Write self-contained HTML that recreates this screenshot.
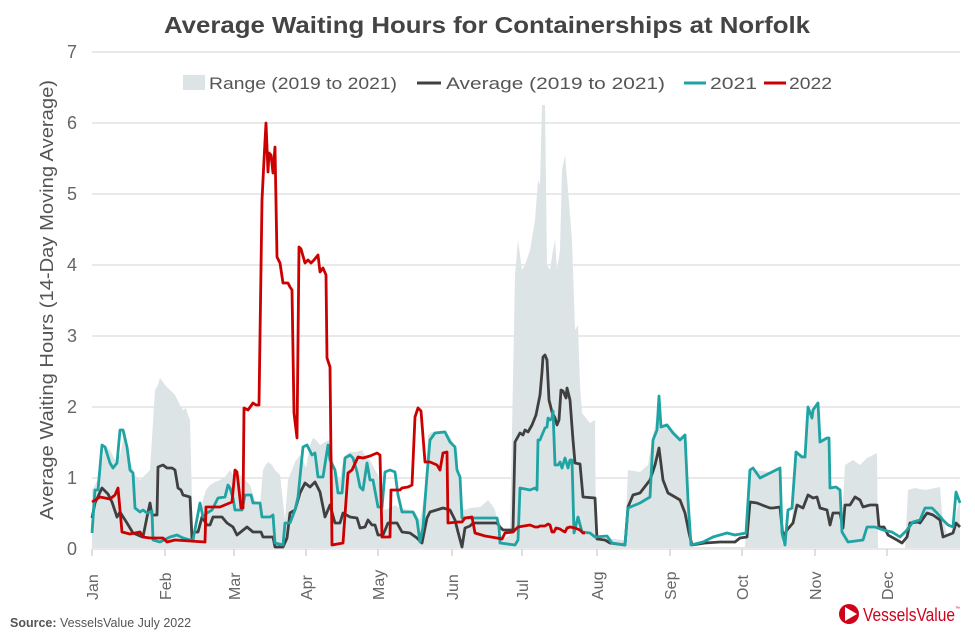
<!DOCTYPE html>
<html><head><meta charset="utf-8"><style>
body{margin:0;background:#fff;}
svg{display:block;font-family:"Liberation Sans",sans-serif;}
</style></head><body>
<svg width="975" height="635" viewBox="0 0 975 635" xmlns="http://www.w3.org/2000/svg">
<rect width="975" height="635" fill="#fff"/>
<text x="487" y="33" text-anchor="middle" font-size="23" font-weight="bold" fill="#444" textLength="646" lengthAdjust="spacingAndGlyphs">Average Waiting Hours for Containerships at Norfolk</text>
<rect x="183" y="75" width="22" height="15" fill="#dde4e6"/>
<text x="209" y="89" font-size="17" fill="#555" textLength="188" lengthAdjust="spacingAndGlyphs">Range (2019 to 2021)</text>
<line x1="417" y1="83" x2="441" y2="83" stroke="#404040" stroke-width="3"/>
<text x="446" y="89" font-size="17" fill="#555" textLength="219" lengthAdjust="spacingAndGlyphs">Average (2019 to 2021)</text>
<line x1="684" y1="83" x2="706" y2="83" stroke="#20a3a3" stroke-width="3"/>
<text x="710" y="89" font-size="17" fill="#555" textLength="47" lengthAdjust="spacingAndGlyphs">2021</text>
<line x1="764" y1="83" x2="786" y2="83" stroke="#cc0000" stroke-width="3"/>
<text x="789" y="89" font-size="17" fill="#555" textLength="43" lengthAdjust="spacingAndGlyphs">2022</text>
<g stroke="#dcdcdc" stroke-width="1.3">
<line x1="92" y1="52" x2="960" y2="52"/><line x1="92" y1="123" x2="960" y2="123"/>
<line x1="92" y1="194" x2="960" y2="194"/><line x1="92" y1="265" x2="960" y2="265"/>
<line x1="92" y1="336" x2="960" y2="336"/><line x1="92" y1="407" x2="960" y2="407"/>
<line x1="92" y1="478" x2="960" y2="478"/><line x1="92" y1="549" x2="960" y2="549"/>
</g>
<g font-size="18" fill="#666" text-anchor="middle">
<text x="72" y="58">7</text><text x="72" y="129">6</text><text x="72" y="200">5</text><text x="72" y="271">4</text>
<text x="72" y="342">3</text><text x="72" y="413">2</text><text x="72" y="484">1</text><text x="72" y="555">0</text>
</g>
<text transform="translate(53,300) rotate(-90)" text-anchor="middle" font-size="18" fill="#555" textLength="440" lengthAdjust="spacingAndGlyphs">Average Waiting Hours (14-Day Moving Average)</text>
<g stroke="#ccc" stroke-width="1.2">
<line x1="92" y1="549" x2="92" y2="556"/><line x1="165" y1="549" x2="165" y2="556"/><line x1="234" y1="549" x2="234" y2="556"/>
<line x1="306" y1="549" x2="306" y2="556"/><line x1="378" y1="549" x2="378" y2="556"/><line x1="452" y1="549" x2="452" y2="556"/>
<line x1="522" y1="549" x2="522" y2="556"/><line x1="597" y1="549" x2="597" y2="556"/><line x1="670" y1="549" x2="670" y2="556"/>
<line x1="742" y1="549" x2="742" y2="556"/><line x1="815" y1="549" x2="815" y2="556"/><line x1="887" y1="549" x2="887" y2="556"/>
</g>
<g font-size="16" fill="#666">
<text transform="translate(98,600) rotate(-90)">Jan</text>
<text transform="translate(171,600) rotate(-90)">Feb</text>
<text transform="translate(240,600) rotate(-90)">Mar</text>
<text transform="translate(312,600) rotate(-90)">Apr</text>
<text transform="translate(384,600) rotate(-90)">May</text>
<text transform="translate(458,600) rotate(-90)">Jun</text>
<text transform="translate(528,600) rotate(-90)">Jul</text>
<text transform="translate(603,600) rotate(-90)">Aug</text>
<text transform="translate(676,600) rotate(-90)">Sep</text>
<text transform="translate(748,600) rotate(-90)">Oct</text>
<text transform="translate(821,600) rotate(-90)">Nov</text>
<text transform="translate(893,600) rotate(-90)">Dec</text>
</g>
<polygon fill="#dde4e6" points="92,490 95,485 100,475 105,445 110,450 115,460 120,455 125,430 130,460 135,475 140,480 145,475 150,470 155,390 158,385 160,378 163,382 165,385 170,390 175,395 180,405 183,410 186,408 188,415 190,420 193,540 196,535 200,520 203,500 206,490 210,485 215,482 220,480 225,477 230,470 235,478 240,475 245,480 250,485 255,500 260,505 263,470 265,466 268,462 272,465 275,470 280,475 285,520 288,480 292,470 295,462 300,455 303,460 306,468 310,445 313,438 316,440 320,445 325,442 330,440 335,470 340,480 343,460 346,455 350,452 356,452 362,450 365,455 370,460 375,470 378,475 382,505 385,510 390,508 395,505 400,508 410,510 415,512 420,520 422,510 425,488 428,435 432,432 445,430 452,440 455,447 458,470 460,505 465,510 470,508 480,507 485,503 488,500 492,505 495,510 500,535 505,538 510,535 515,275 518,240 520,255 522,270 525,265 530,250 535,220 538,180 540,185 542,105 545,105 547,265 550,270 553,250 555,240 557,270 560,250 562,170 565,155 568,190 572,240 575,330 578,325 580,385 582,413 590,423 595,420 596,540 600,538 625,540 628,470 640,472 648,465 652,440 656,420 659,396 661,425 667,423 673,430 680,437 685,433 688,498 690,547 745,547 748,470 755,470 770,472 780,468 782,545 787,533 792,520 796,450 802,455 806,455 808,405 812,415 818,400 820,440 828,436 830,487 840,490 842,520 845,465 853,460 860,465 867,458 877,453 878,548 905,548 908,490 915,488 925,490 935,488 940,487 942,513 947,535 953,530 957,510 960,500 960,548 92,548"/>
<polyline fill="none" stroke="#404040" stroke-width="2.8" stroke-linejoin="round" points="92,518 95,503 102,488 108,494 112,502 117,517 120,512 127,523 133,533 140,536 143,537 147,517 150,503 152,515 157,515 158,467 163,465 167,468 172,468 175,470 178,488 181,490 183,495 190,497 192,538 195,532 198,532 202,517 207,525 210,525 213,517 222,517 227,523 233,527 237,535 247,527 253,532 261,532 263,537 273,537 275,547 283,547 287,538 290,513 295,510 300,493 305,483 310,487 315,482 320,492 325,517 330,505 335,523 340,523 343,513 350,517 357,518 360,528 365,527 368,520 372,525 375,525 378,535 383,535 388,523 397,523 402,532 410,533 417,538 422,543 427,518 430,512 443,508 450,510 455,520 458,532 462,547 465,528 470,526 473,523 497,523 500,527 503,530 513,530 515,442 520,433 523,435 525,430 528,432 532,425 536,415 540,395 542,372 543,357 545,355 547,360 549,400 552,412 555,418 557,425 559,420 561,390 563,391 566,398 567,388 570,400 573,440 575,463 580,464 583,497 595,498 597,539 605,540 610,543 625,545 628,507 633,495 640,493 650,480 655,465 659,448 663,480 668,493 675,497 680,500 685,513 689,533 692,545 705,543 720,542 735,542 740,538 747,537 750,502 757,503 762,505 770,508 773,508 780,507 783,537 787,530 793,523 797,505 803,508 808,495 813,498 817,497 820,508 827,510 830,525 833,513 840,513 843,528 845,505 850,505 855,497 860,500 863,507 870,505 877,505 879,527 884,527 888,535 897,540 902,543 907,537 910,523 918,522 920,523 927,513 933,515 940,520 943,537 953,533 956,523 960,527"/>
<polyline fill="none" stroke="#20a3a3" stroke-width="2.8" stroke-linejoin="round" points="92,533 95,490 98,490 102,445 105,447 110,463 113,468 117,463 120,430 123,430 127,447 130,470 133,473 135,508 140,512 143,510 147,513 152,511 153,540 160,542 170,537 177,535 183,538 190,540 193,540 200,503 203,517 207,513 212,510 218,498 225,497 228,485 230,488 233,498 235,510 242,510 245,495 251,495 253,503 260,503 262,517 270,517 273,515 275,543 283,545 285,523 290,523 295,510 298,497 303,447 307,445 312,455 315,453 318,477 323,477 328,445 330,460 335,470 338,493 342,493 345,458 350,455 353,458 357,472 360,487 363,490 367,463 370,480 373,480 378,507 382,507 385,472 390,470 395,472 398,495 402,512 413,512 417,520 420,542 423,527 427,475 430,440 435,433 445,432 450,442 455,447 457,470 460,477 462,518 470,518 497,518 499,527 500,543 515,545 518,540 520,488 530,490 535,488 537,490 538,440 540,440 542,435 545,428 547,427 548,418 550,420 552,418 553,411 555,465 558,465 560,462 562,468 565,458 568,468 570,460 572,460 574,533 578,517 582,532 590,533 595,537 607,536 612,543 625,545 628,508 640,503 650,497 653,440 657,430 659,396 661,427 667,425 673,433 680,440 685,435 688,500 691,545 703,542 713,537 727,533 735,535 746,533 750,470 753,468 760,478 770,473 780,468 782,533 785,545 788,510 792,508 796,452 802,457 805,457 808,407 812,418 813,410 818,403 820,442 827,438 829,438 830,488 836,487 840,490 842,532 848,542 863,540 867,527 875,527 883,530 892,532 900,537 907,530 913,522 920,520 925,508 932,508 937,513 943,520 948,525 953,527 956,492 960,503"/>
<polyline fill="none" stroke="#cc0000" stroke-width="2.8" stroke-linejoin="round" points="92,502 100,497 110,499 115,495 118,488 122,532 130,534 140,532 143,537 150,538 163,538 167,542 175,540 190,541 205,542 206,507 215,507 220,507 232,502 235,470 237,472 241,508 243,508 244,408 248,410 253,403 256,405 259,405 262,200 264,160 266,123 268,172 269,153 271,155 273,173 275,147 277,257 280,263 283,283 288,283 290,287 292,290 294,413 297,438 299,247 301,249 305,263 308,260 311,263 314,260 318,255 320,272 323,268 326,275 327,358 330,367 332,545 343,543 348,473 352,470 358,457 363,458 370,456 377,453 380,455 382,537 390,537 391,490 400,490 402,488 408,487 412,485 415,417 418,408 421,411 425,462 430,462 437,465 440,470 443,453 447,452 448,523 458,522 462,522 465,518 472,517 475,533 485,536 497,538 502,539 505,533 513,532 518,527 530,525 535,527 538,527 540,526 545,526 548,524 550,525 552,532 554,532 556,528 560,529 563,531 565,532 567,528 570,527 575,528 580,530 583,533 585,533"/>
<text x="10" y="627" font-size="12.5" fill="#555"><tspan font-weight="bold">Source:</tspan> VesselsValue July 2022</text>
<circle cx="849" cy="614" r="10" fill="#d0021b"/>
<polygon points="845,607 857,614 845,621" fill="#fff"/>
<text x="863" y="621" font-size="18" fill="#d0021b" textLength="92" lengthAdjust="spacingAndGlyphs">VesselsValue</text>
<text x="955" y="610" font-size="5" fill="#d0021b">™</text>
</svg>
</body></html>
